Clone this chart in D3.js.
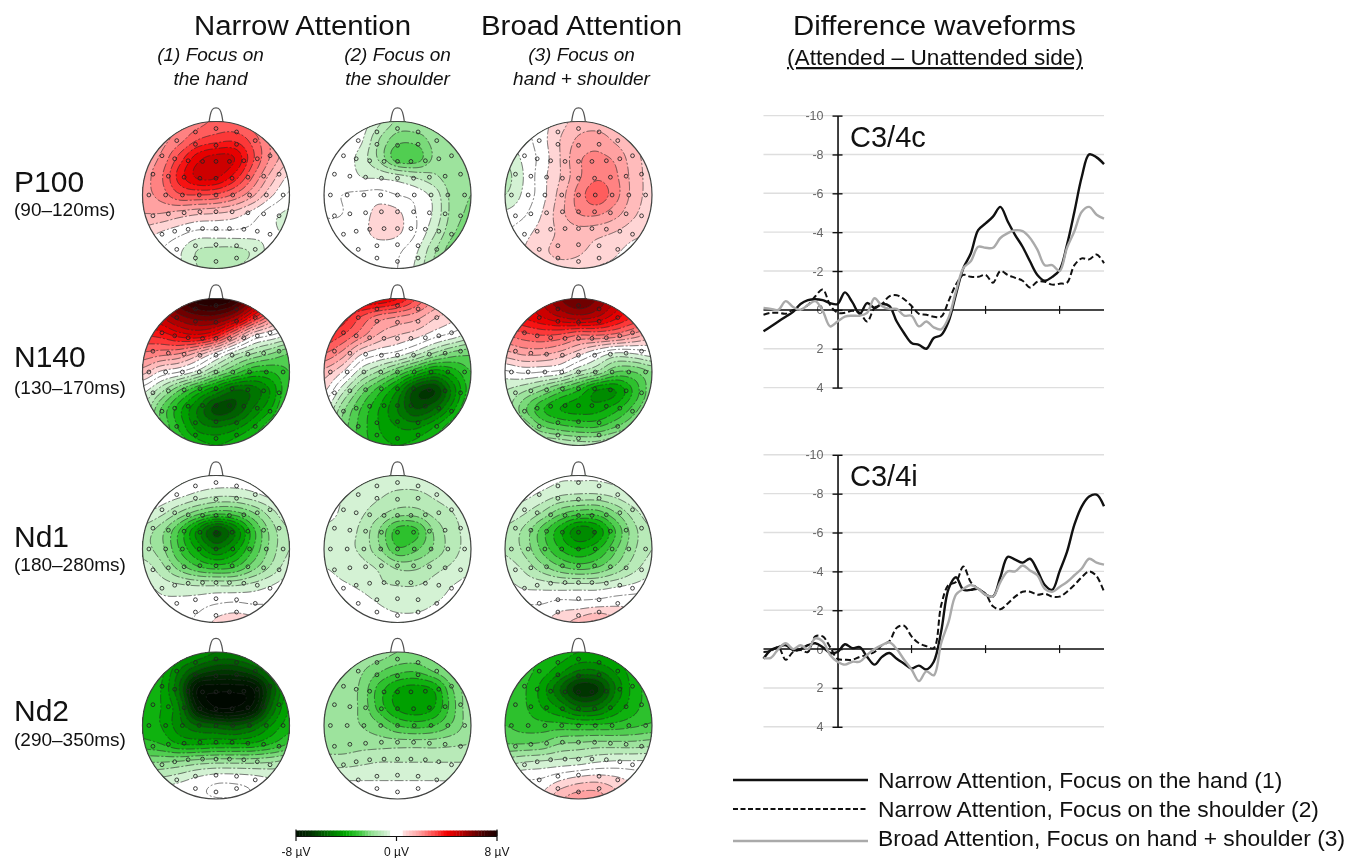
<!DOCTYPE html>
<html><head><meta charset="utf-8">
<script src="https://cdnjs.cloudflare.com/ajax/libs/d3/7.8.5/d3.min.js"></script>
<style>
html,body{margin:0;padding:0;background:#fff}
svg{display:block}
text{font-family:"Liberation Sans",Arial,sans-serif;fill:#111}
</style></head><body><svg id="c" width="1357" height="858"></svg>
<script>
// ---------- data ----------
const components = ["P100","N140","Nd1","Nd2"];
const windows = ["(90–120ms)","(130–170ms)","(180–280ms)","(290–350ms)"];
const conditionLines = [["(1) Focus on","the hand"],["(2) Focus on","the shoulder"],["(3) Focus on","hand + shoulder"]];
const legendLabels = ["Narrow Attention, Focus on the hand (1)","Narrow Attention, Focus on the shoulder (2)","Broad Attention, Focus on hand + shoulder (3)"];
const yTicks = [-10,-8,-6,-4,-2,0,2,4];
const timeTicks = [100,200,300];
const times = d3.range(-100,361,10);

// scalp voltage estimates (µV), coarse 9×9 grid, x and y from -1 to 1 in .25 steps
const P100_1=[[1.5,1.8,2,2.3,2.6,2.6,2.2,1.6,1.2],[1.5,1.8,2.3,3,3.3,3.4,2.8,1.9,1.3],[1.7,2.1,3.2,4.3,4.7,4.5,3.1,1.9,1.1],[1.8,2.4,3.7,4.6,4.6,3.8,2.5,1.3,.4],[1.8,2.2,2.9,3,2.9,2.4,1.6,.6,-.1],[1.5,1.5,1.3,1.1,1,.8,.3,-.3,-.6],[.8,.5,.2,-.1,-.1,-.1,-.2,-.4,-.6],[.2,0,-.4,-1,-1.1,-1.1,-.9,-.3,-.2],[0,0,-.4,-1,-1,-1,-.8,-.2,-.1]];
const P100_2=[[0,0,-.2,-.9,-1.6,-1.6,-1.5,-1.3,-1.2],[0,-.1,-.4,-1.5,-2.3,-2.3,-1.8,-1.5,-1.4],[0,-.2,-.7,-1.6,-2.8,-2.8,-1.9,-1.7,-1.6],[0,-.1,-.5,-.6,-.8,-1.1,-1.4,-1.8,-1.9],[0,0,.1,.2,0,-.2,-.7,-1.7,-2],[0,0,.2,.7,.6,0,-.6,-1.7,-2.1],[0,.1,.3,.7,.6,0,-.9,-1.9,-2.3],[0,0,.1,.2,.1,-.4,-1.4,-2.3,-2.4],[0,0,0,.1,0,-.6,-1.6,-2.3,-2.4]];
const P100_3=[[0,0,.3,.8,1.2,1.2,1,.8,.7],[-.3,-.2,.3,1,1.6,1.8,1.4,1,.8],[-.9,-.4,.2,1,1.9,2.1,1.9,1.2,.8],[-1.2,-.5,.3,1,1.9,2.4,2.1,1.3,.8],[-1,-.4,.3,1.2,2.2,2.8,2.2,1.3,.8],[-.4,-.1,.5,1.3,2,2.1,1.7,1.1,.7],[0,.3,.7,1.1,1.3,1.2,1,.7,.5],[.2,.5,.9,1.1,1.1,.8,.6,.3,.1],[.3,.6,.8,.9,.8,.5,.4,.2,0]];
const N140_1=[[5,6,7,7.8,8,7.5,6,5,4],[4.5,5,5.8,6.3,6.3,5.5,3.8,2.2,1],[3.5,3.7,4.2,4.4,3.8,2.2,.6,0,-.5],[2.4,2.2,2,1.3,.3,-.8,-1.5,-2,-2.5],[1.2,.4,0,-.7,-1.8,-2.7,-3.5,-3.5,-3],[-.3,-1.3,-2.5,-3.6,-4.6,-5.5,-5.3,-4.4,-3],[-1,-2.5,-3.8,-5,-6.2,-6,-5,-4,-2.5],[-1.5,-2.5,-3.6,-4.7,-5,-4.7,-4,-3,-2],[-1.5,-2.4,-3,-3.7,-4,-3.7,-3,-2.3,-1.5]];
const N140_2=[[3,4,4.5,4.5,4,3,2,1.4,1],[4,3.8,3,2.3,2,1.7,1.1,.7,.4],[3.5,3,2.2,1.4,1,.7,.2,-.2,-.7],[2.5,1.8,.6,.1,-.2,-.8,-1.6,-2.2,-2.4],[1.3,.5,-.8,-1.6,-2.5,-3.5,-4.3,-3.8,-3],[.6,-.8,-2.2,-3.3,-4.5,-6.2,-6.5,-4.8,-3.2],[-.3,-1.8,-3,-4,-5,-6,-5.5,-4.2,-2.7],[-1,-2.2,-3.2,-4,-4.5,-4.6,-4,-3,-2],[-1.5,-2.5,-3.2,-3.8,-4,-3.8,-3.2,-2.5,-1.7]];
const N140_3=[[3,4,5,6,6.5,6,5,4,3],[3.5,4,4.5,5,5.3,5,4.2,3.5,3],[2.5,2.8,3,2.9,2.5,2.5,2.3,1.8,1.3],[1.3,1.6,1.6,1.3,.7,0,-.6,-.5,-.2],[-.1,.1,0,-.2,-1,-1.6,-2.5,-2.5,-2],[-1,-1.4,-2,-2.8,-3.5,-4.5,-4.5,-3.4,-2.2],[-1.2,-2.3,-3.4,-4,-4.2,-4.2,-3.7,-2.8,-1.8],[-1,-1.5,-2.4,-2.8,-3,-3,-2.5,-1.8,-.8],[-.5,-.6,-.8,-1,-1.2,-1.2,-.8,-.4,-.2]];
const Nd1_1=[[0,0,0,-.2,-.2,-.2,-.2,0,0],[0,-.1,-.3,-.6,-.8,-.8,-.6,-.3,-.1],[-.4,-.8,-1.5,-2.2,-2.7,-2.6,-2,-1.2,-.5],[-1.2,-1.8,-3,-4.6,-6,-5,-3.2,-1.8,-1],[-1.3,-1.8,-3,-4.1,-5,-4.3,-3,-1.8,-1],[-.7,-1.3,-2.2,-2.9,-3.2,-3,-2.2,-1.4,-.7],[-.3,-.7,-.9,-1,-1,-1,-.8,-.5,-.2],[0,-.3,-.3,-.2,0,.1,0,0,0],[0,0,0,.1,.6,.8,.7,.4,.2]];
const Nd1_2=[[-.5,-.6,-.6,-.7,-.7,-.7,-.6,-.5,-.5],[-.3,-.5,-.7,-.9,-1.1,-1.1,-.9,-.7,-.5],[-.2,-.6,-.9,-1.3,-1.7,-1.7,-1.3,-1,-.7],[-.7,-.8,-1.1,-2,-3.2,-3.1,-1.9,-1.2,-.8],[-.9,-.9,-1.1,-1.9,-2.9,-2.6,-1.9,-1.2,-.8],[-.5,-.7,-.8,-1.1,-1.6,-1.6,-1.2,-.9,-.6],[-.2,-.4,-.6,-.9,-1,-1,-.8,-.5,-.3],[0,0,-.2,-.5,-.7,-.7,-.5,-.3,-.1],[0,0,0,-.2,-.3,-.3,-.2,0,0]];
const Nd1_3=[[0,-.1,-.2,-.4,-.4,-.4,-.3,-.1,0],[-.2,-.3,-.6,-.9,-1,-1,-.8,-.4,-.2],[-.6,-.9,-1.5,-2.3,-2.7,-2.7,-2,-1.2,-.6],[-1.1,-1.6,-2.7,-3.8,-4.8,-4.4,-3,-1.7,-1],[-1.1,-1.6,-2.6,-3.5,-4,-3.6,-2.6,-1.6,-1],[-.7,-1.1,-1.8,-2.4,-2.7,-2.5,-1.9,-1.2,-.7],[-.3,-.6,-.7,-.8,-.8,-.8,-.6,-.4,-.2],[0,0,0,.2,.2,.3,.4,.4,.3],[0,.1,.4,.8,1.2,1.6,1.1,.6,.3]];
const Nd2_1=[[-3,-3.5,-4,-4.5,-5,-5,-4.5,-4,-3.5],[-3.2,-3.8,-5,-6,-6.5,-6.5,-6,-5,-4],[-3.5,-4,-5.5,-8,-8.3,-8.3,-8,-6,-4.2],[-3.7,-4,-5,-7.5,-8.5,-8.5,-7.8,-5.5,-4],[-3.7,-4,-4.8,-5.5,-5.8,-6,-5.5,-4.5,-3.7],[-3.3,-3.5,-4,-4.1,-4,-4,-3.9,-3.5,-3],[-2,-2,-1.9,-1.7,-1.6,-1.6,-1.6,-1.5,-1.3],[-.8,-.8,-.6,-.3,-.1,-.1,-.2,-.4,-.5],[0,0,0,0,0,0,0,0,0]];
const Nd2_2=[[-1,-1.2,-1.5,-1.7,-2,-2,-1.8,-1.5,-1.2],[-1.2,-1.5,-1.9,-2.4,-2.8,-2.9,-2.4,-1.8,-1.4],[-1.5,-1.7,-2.1,-3.2,-4,-4.2,-3.9,-2.5,-1.6],[-1.7,-1.8,-2.1,-3.2,-4.1,-4.4,-4,-2.7,-1.6],[-1.9,-1.9,-2,-2.4,-3,-3.2,-3,-2.4,-1.7],[-1.8,-1.8,-1.7,-1.7,-1.7,-1.7,-1.7,-1.6,-1.5],[-1.2,-1.2,-1.1,-1,-1,-1,-1,-1,-1],[-.5,-.5,-.5,-.5,-.5,-.5,-.5,-.5,-.4],[0,0,0,0,-.1,0,0,0,0]];
const Nd2_3=[[-3,-3.5,-3.5,-3.7,-4,-4,-3.7,-3.5,-3],[-3,-3.3,-3.7,-4.3,-5,-5,-4.4,-3.7,-3.2],[-3,-3.4,-4.2,-5.5,-6.8,-6.6,-5,-3.8,-3.3],[-3.2,-3.4,-4,-4.6,-5.4,-5.3,-4.4,-3.7,-3.2],[-3,-3.2,-3.3,-3.3,-3.4,-3.4,-3.3,-3.1,-2.9],[-2.5,-2.5,-2.4,-2,-1.9,-1.8,-1.8,-1.8,-1.7],[-1.2,-1,-.9,-.8,-.7,-.5,-.4,-.4,-.4],[-.2,0,.1,.5,.8,.9,.7,.4,.2],[0,.2,.6,1.4,1.8,1.8,1.2,.6,.3]];
const scalpMaps=[[P100_1,P100_2,P100_3],[N140_1,N140_2,N140_3],[Nd1_1,Nd1_2,Nd1_3],[Nd2_1,Nd2_2,Nd2_3]];

// electrode montage: one quadrant, mirrored when drawn
const electrodeQuadrant=[[0,.904],[.28,.858],[.534,.74],[.28,.69],[0,.676],[.735,.534],[.562,.493],[.379,.466],[.183,.457],[0,.457],[.858,.283],[.648,.256],[.434,.242],[.219,.228],[0,.228],[.913,0],[.685,0],[.457,0],[.228,0],[0,0]];

// difference waveforms (µV), one value each 10 ms from -100 to 360 ms
const c_hand=[1.1,.85,.6,.35,.1,-.3,-.5,-.55,-.5,-.35,-.3,-.9,-.4,.2,-.35,-.1,-.3,-.2,.6,1.2,1.7,1.8,2,1.45,1.3,.6,-.8,-2.15,-2.9,-4.1,-4.45,-4.8,-5.3,-4.55,-3.85,-3.25,-2.5,-1.8,-1.5,-1.7,-2.05,-3.35,-5.05,-6.85,-8,-7.85,-7.5];
const c_shoulder=[.25,.15,.15,.2,0,0,-.25,-.7,-1.05,-.25,.15,.15,.05,.15,.6,-.1,-.3,-.7,-.75,-.55,-.2,.2,.25,.35,.35,-.45,-1.3,-1.8,-1.7,-1.7,-1.8,-1.4,-2,-1.8,-1.65,-1.5,-1.15,-1.45,-1.45,-1.3,-1.35,-1.4,-2.3,-2.65,-2.6,-2.85,-2.4];
const c_broad=[-.1,-.05,0,-.45,-.15,0,-.25,-.45,.05,.85,.6,.35,.3,.3,.15,-.6,-.2,-.05,-.05,.3,.3,.85,.6,.9,1,.4,-.95,-2.15,-2.5,-3.25,-3.2,-3.2,-3.7,-3.95,-4.1,-4.05,-3.7,-3.1,-2.3,-2.3,-2,-3.2,-4.05,-5.05,-5.3,-4.9,-4.7];
const i_hand=[.5,.05,-.1,-.2,.05,0,-.2,-.3,-.1,.2,.15,-.25,-.05,-.1,.4,.8,.4,.2,.5,.75,1,.85,1.05,.65,-.9,-3.1,-3.7,-3.05,-3.05,-3.1,-2.8,-2.7,-3.7,-4.75,-4.6,-4.45,-4.65,-4.05,-3.3,-3.05,-4,-5,-6.4,-7.35,-7.85,-7.95,-7.35];
const i_shoulder=[.15,.1,-.1,.55,.15,.05,.15,-.65,-.65,-.1,.5,.55,.55,.4,.3,.15,-.2,-.4,-1.1,-1.2,-.65,-.3,-.15,-.05,-2.25,-3.3,-3.45,-4.25,-3.45,-3.1,-2.85,-2.2,-2.05,-2.35,-2.7,-2.95,-2.95,-2.8,-2.85,-2.7,-2.7,-2.95,-3.3,-3.7,-4,-3.75,-2.95];
const i_broad=[.45,.45,0,-.3,0,-.2,0,-.55,-.4,.3,.65,.8,.65,.65,.3,0,-.2,-.35,0,.55,1.05,1.65,1.15,1.35,-.3,-1.4,-2.8,-3.1,-3.3,-3.1,-2.8,-2.7,-3.45,-4,-4,-4.3,-4.05,-3.8,-3.1,-2.95,-3.2,-3.45,-3.8,-4.15,-4.65,-4.45,-4.35];
const panels=[{name:"C3/4c",series:[c_shoulder,c_hand,c_broad]},{name:"C3/4i",series:[i_shoulder,i_hand,i_broad]}];

// colour ramp
const rampV=[-8.5,-7,-6,-5,-4,-3,-2,-1,-.5,0,.5,1,2,3,4,5,6,7,8.5];
const rampC=["#000800","#002a00","#005500","#008000","#00aa00","#3cc83c","#8fe08f","#c6edc6","#e2f6e2","#ffffff","#ffe2e2","#ffc8c8","#ff9494","#ff4a4a","#f40000","#c00000","#800000","#400000","#0c0000"];
const color=d3.scaleLinear().domain(rampV).range(rampC).clamp(true);

// ---------- layout ----------
const svg=d3.select("#c");
const colX=d3.scaleOrdinal().domain([0,1,2]).range([216,397.5,578.5]);
const rowY=d3.scaleOrdinal().domain([0,1,2,3]).range([195,372,549,725.5]);
const R=73.5, N=150, step=.5;
const thresholds=d3.range(-9.5,9.51,step);

function catmull(p0,p1,p2,p3,t){return .5*((2*p1)+(-p0+p2)*t+(2*p0-5*p1+4*p2-p3)*t*t+(-p0+3*p1-3*p2+p3)*t*t*t);}
function upsample(g){
  const m=g.length, out=new Float64Array(N*N), cl=i=>Math.max(0,Math.min(m-1,i));
  for(let j=0;j<N;j++){
    const gy=j/(N-1)*(m-1), y0=Math.floor(gy), ty=gy-y0;
    for(let i=0;i<N;i++){
      const gx=i/(N-1)*(m-1), x0=Math.floor(gx), tx=gx-x0, col=[];
      for(let k=-1;k<=2;k++){
        const r=g[cl(y0+k)];
        col.push(catmull(r[cl(x0-1)],r[cl(x0)],r[cl(x0+1)],r[cl(x0+2)],tx));
      }
      out[j*N+i]=catmull(col[0],col[1],col[2],col[3],ty);
    }
  }
  return out;
}
const electrodes=[];
electrodeQuadrant.forEach(([x,y])=>{
  const sx=x===0?[1]:[-1,1], sy=y===0?[1]:[-1,1];
  sx.forEach(a=>sy.forEach(b=>electrodes.push([a*x,b*y])));
});

const defs=svg.append("defs");
const headG=svg.append("g").style("filter","blur(0.35px)");
scalpMaps.forEach((row,ri)=>row.forEach((map,ci)=>{
  const cx=colX(ci), cy=rowY(ri);
  const sx=d3.scaleLinear().domain([-1,1]).range([cx-R,cx+R]);
  const sy=d3.scaleLinear().domain([-1,1]).range([cy-R,cy+R]);
  const id=`clip${ri}${ci}`;
  defs.append("clipPath").attr("id",id).append("circle").attr("cx",cx).attr("cy",cy).attr("r",R);
  const g=headG.append("g");
  g.append("path").attr("fill","none").attr("stroke","#555").attr("stroke-width",1.2)
    .attr("d",d3.line().curve(d3.curveBasis)([[cx-7,cy-R+1],[cx-6,cy-R-6],[cx-4,cy-R-13],[cx,cy-R-14],[cx+4,cy-R-13],[cx+6,cy-R-6],[cx+7,cy-R+1]]));
  const inner=g.append("g").attr("clip-path",`url(#${id})`);
  inner.append("circle").attr("cx",cx).attr("cy",cy).attr("r",R).attr("fill",color(-9.5));
  const vals=upsample(map);
  const conts=d3.contours().size([N,N]).smooth(true).thresholds(thresholds)(vals);
  const k=(2*R)/(N-1);
  const path=d3.geoPath(d3.geoIdentity().scale(k).translate([cx-R-k*.5,cy-R-k*.5]));
  const ext=d3.extent(vals);
  conts.forEach(c=>{
    if(c.coordinates.length===0) return;
    const mid=c.value+step/2;
    const bandV=Math.abs(mid)<=.26?0:mid;
    inner.append("path").attr("d",path(c)).attr("fill",color(bandV)).attr("stroke","none");
  });
  conts.forEach(c=>{
    if(c.coordinates.length===0||c.value<=ext[0]) return;
    inner.append("path").attr("d",path(c)).attr("fill","none").attr("stroke","#2a2a2a")
      .attr("stroke-width",.75).attr("stroke-dasharray","9 2 2 2").attr("stroke-opacity",.85);
  });
  g.append("circle").attr("cx",cx).attr("cy",cy).attr("r",R).attr("fill","none").attr("stroke","#444").attr("stroke-width",1.2);
  g.selectAll("circle.e").data(electrodes).join("circle").attr("class","e")
    .attr("cx",d=>sx(d[0])).attr("cy",d=>sy(d[1])).attr("r",1.9)
    .attr("fill","none").attr("stroke","#222").attr("stroke-width",.85);
}));

// ---------- headers ----------
function txt(x,y,s,size,opt={}){
  const t=svg.append("text").attr("x",x).attr("y",y).attr("font-size",size).text(s);
  if(opt.anchor) t.attr("text-anchor",opt.anchor);
  if(opt.italic) t.attr("font-style","italic");
  if(opt.underline) t.attr("text-decoration","underline");
  if(opt.fill) t.style("fill",opt.fill);
  return t;
}
txt(302.5,35,"Narrow Attention",27,{anchor:"middle"}).attr("textLength",217).attr("lengthAdjust","spacingAndGlyphs");
txt(581.5,35,"Broad Attention",27,{anchor:"middle"}).attr("textLength",201).attr("lengthAdjust","spacingAndGlyphs");
txt(934.5,35,"Difference waveforms",27,{anchor:"middle"}).attr("textLength",283).attr("lengthAdjust","spacingAndGlyphs");
txt(935,65,"(Attended – Unattended side)",22.5,{anchor:"middle",underline:true}).attr("textLength",296).attr("lengthAdjust","spacingAndGlyphs");
const subX=[210.5,397.5,581.5];
conditionLines.forEach((ls,i)=>ls.forEach((s,j)=>txt(subX[i],61+j*24,s,19,{anchor:"middle",italic:true})));
const labY=[192,367,547,721], winY=[216,394,571,746];
components.forEach((c,i)=>{txt(14,labY[i],c,30);txt(14,winY[i],windows[i],19);});

// ---------- colourbar ----------
const barX=d3.scaleLinear().domain([-8,8]).range([296,497]);
const barG=svg.append("g");
d3.range(-8,8,.25).forEach(v=>{
  const mid=v+.125;
  barG.append("rect").attr("x",barX(v)).attr("y",830.5).attr("width",barX(v+.25)-barX(v)+.4).attr("height",5.5)
    .attr("fill",color(Math.abs(mid)<.5?0:mid));
});
barG.append("path").attr("fill","none").attr("stroke","#111").attr("stroke-width",1.2)
  .attr("d",`M${barX(-8)},${829.5}V841M${barX(-8)},836.5H${barX(8)}M${barX(8)},${829.5}V841M${barX(0)},836.5V841`);
[-8,0,8].forEach(v=>txt(barX(v),856,`${v} µV`,12,{anchor:"middle"}));

// ---------- waveforms ----------
const xT=d3.scaleLinear().domain([-100,360]).range([763.5,1104]);
const styles=[{c:"#111",w:2,d:"6 3"},{c:"#111",w:2.4,d:null},{c:"#aaaaaa",w:2.4,d:null}];
const tops=[115.6,454.8];
panels.forEach((p,pi)=>{
  const y=d3.scaleLinear().domain([-10,4]).range([tops[pi],tops[pi]+272]);
  const g=svg.append("g");
  yTicks.forEach(t=>g.append("line").attr("x1",xT(-100)).attr("x2",1104).attr("y1",y(t)).attr("y2",y(t)).attr("stroke","#dedede").attr("stroke-width",1.4));
  const ax=g.append("g").attr("transform",`translate(${xT(0)},0)`)
    .call(d3.axisLeft(y).tickValues(yTicks).tickFormat(d=>String(d)).tickSize(5).tickSizeOuter(0).tickPadding(9));
  ax.selectAll("path").attr("stroke","#111").attr("stroke-width",1.6);
  ax.selectAll(".tick line").attr("stroke","#111").attr("stroke-width",1.4).attr("x2",5).attr("x1",-5);
  ax.selectAll("text").attr("font-size",12.5).style("font-family",'"Liberation Sans",Arial,sans-serif').style("fill","#666");
  const zero=g.append("g").attr("transform",`translate(0,${y(0)})`);
  zero.append("line").attr("x1",xT(-100)).attr("x2",1104).attr("stroke","#111").attr("stroke-width",1.5);
  zero.selectAll("line.t").data(timeTicks).join("line").attr("class","t")
    .attr("x1",d=>xT(d)).attr("x2",d=>xT(d)).attr("y1",-4).attr("y2",4).attr("stroke","#111").attr("stroke-width",1.2);
  const line=d3.line().x((d,i)=>xT(times[i])).y(d=>y(d)).curve(d3.curveCatmullRom.alpha(.5));
  p.series.forEach((s,i)=>{
    const st=styles[i];
    g.append("path").attr("d",line(s)).attr("fill","none").attr("stroke",st.c).attr("stroke-width",st.w)
      .attr("stroke-dasharray",st.d).attr("stroke-linejoin","round");
  });
  txt(850,tops[pi]+31,p.name,29);
});

// ---------- legend ----------
const legY=[780,809,841], legT=[788,817,846];
[1,0,2].forEach((si,i)=>{
  const st=styles[si];
  svg.append("line").attr("x1",733).attr("x2",868).attr("y1",legY[i]).attr("y2",legY[i]).attr("stroke",st.c)
    .attr("stroke-width",st.w).attr("stroke-dasharray",si===0?"5 2.5":null);
  txt(878,legT[i],legendLabels[i],22.8);
});
</script></body></html>
